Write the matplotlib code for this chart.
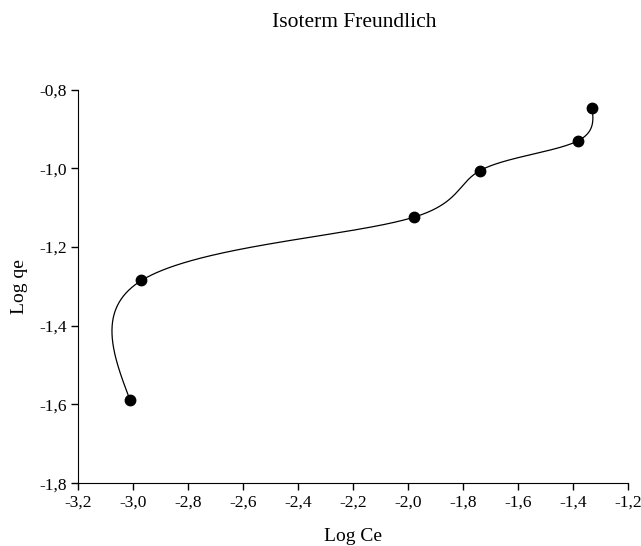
import numpy as np
import matplotlib
matplotlib.use("Agg")
import matplotlib.pyplot as plt

log_ce = [-3.012, -2.970, -1.978, -1.739, -1.382, -1.331]
log_qe = [-1.588, -1.285, -1.124, -1.006, -0.930, -0.847]
x_ticks = [-3.2, -3.0, -2.8, -2.6, -2.4, -2.2, -2.0, -1.8, -1.6, -1.4, -1.2]
y_ticks = [-1.8, -1.6, -1.4, -1.2, -1.0, -0.8]

def natural_spline(t, v, tt):
    n = len(t)
    h = np.diff(t)
    A = np.zeros((n, n)); b = np.zeros(n)
    A[0, 0] = 1; A[-1, -1] = 1
    for i in range(1, n - 1):
        A[i, i - 1] = h[i - 1]; A[i, i] = 2 * (h[i - 1] + h[i]); A[i, i + 1] = h[i]
        b[i] = 3 * ((v[i + 1] - v[i]) / h[i] - (v[i] - v[i - 1]) / h[i - 1])
    c = np.linalg.solve(A, b)
    out = np.empty_like(tt)
    for k, x in enumerate(tt):
        i = min(max(np.searchsorted(t, x) - 1, 0), n - 2)
        bi = (v[i + 1] - v[i]) / h[i] - h[i] * (2 * c[i] + c[i + 1]) / 3
        di = (c[i + 1] - c[i]) / (3 * h[i])
        d = x - t[i]
        out[k] = v[i] + bi * d + c[i] * d * d + di * d ** 3
    return out

fig = plt.figure(figsize=(6.41, 5.46), dpi=100)
ax = fig.add_axes([0.122, 0.115, 0.858, 0.721])
ax.set_xlim(-3.2, -1.2)
ax.set_ylim(-1.8, -0.8)

# parametric spline in display space
xa = np.array(log_ce); ya = np.array(log_qe)
px = xa * 275.0; py = ya * 393.5
t = np.concatenate([[0], np.cumsum(np.hypot(np.diff(px), np.diff(py)) ** 0.25)])
tt = np.linspace(0, t[-1], 1000)
cx = natural_spline(t, xa, tt)
cy = natural_spline(t, ya, tt)
ax.plot(cx, cy, color="black", lw=0.9, clip_on=False)
ax.plot(log_ce, log_qe, "o", color="black", ms=7.5, clip_on=False)

font = "Liberation Serif"
ax.set_xticks(x_ticks)
ax.set_yticks(y_ticks)
ax.set_xticklabels([f"{v:.1f}".replace(".", ",") for v in x_ticks], fontfamily=font, fontsize=12.5)
ax.set_yticklabels([f"{v:.1f}".replace(".", ",") for v in y_ticks], fontfamily=font, fontsize=12.5)
ax.spines["top"].set_visible(False)
ax.spines["right"].set_visible(False)
ax.tick_params(direction="out", length=5, width=1, pad=3)
ax.set_xlabel("Log Ce", fontfamily=font, fontsize=14, labelpad=13)
ax.set_ylabel("Log qe", fontfamily=font, fontsize=14, labelpad=8)
fig.text(0.553, 0.958, "Isoterm Freundlich", ha="center", va="center", fontfamily=font, fontsize=15.5)
fig.savefig("out.png", dpi=100)
